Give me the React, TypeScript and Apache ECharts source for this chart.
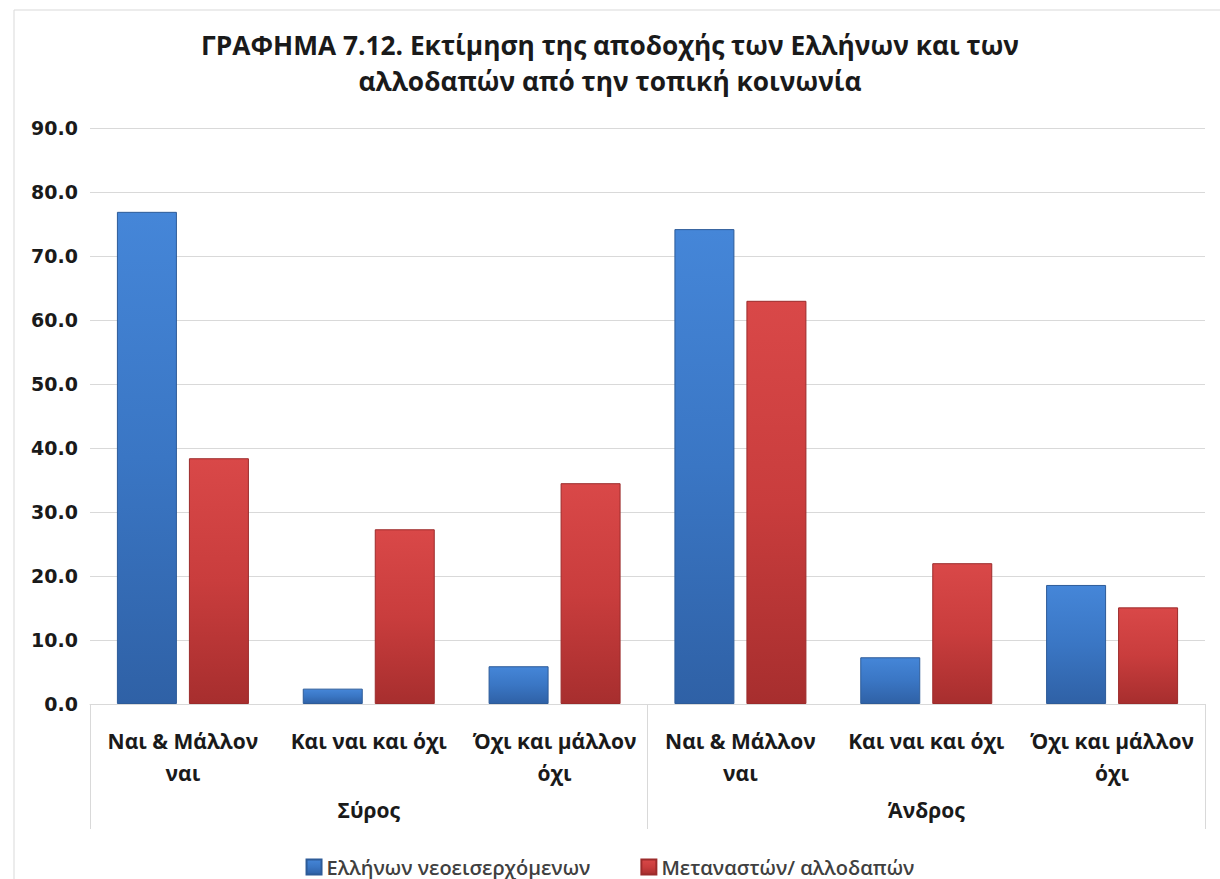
import React, { useEffect, useRef } from "react";
import * as echarts from "echarts";

const categories = ["Ναι & Μάλλον\nναι", "Και ναι και όχι", "Όχι και μάλλον\nόχι", "Ναι & Μάλλον\nναι", "Και ναι και όχι", "Όχι και μάλλον\nόχι"];
const groups = ["Σύρος", "Άνδρος"];
const greeks = [76.9, 2.4, 5.9, 74.2, 7.3, 18.6];
const migrants = [38.4, 27.3, 34.5, 63.0, 22.0, 15.1];
const seriesNames = ["Ελλήνων νεοεισερχόμενων", "Μεταναστών/ αλλοδαπών"];
const titleText = "ΓΡΑΦΗΜΑ 7.12. Εκτίμηση της αποδοχής των Ελλήνων και των\nαλλοδαπών από την τοπική κοινωνία";

const FONT = "Open Sans";

function grad(top: string, mid: string, bottom: string) {
  return new echarts.graphic.LinearGradient(0, 0, 0, 1, [
    { offset: 0, color: top },
    { offset: 0.5, color: mid },
    { offset: 1, color: bottom },
  ]);
}

export default function App() {
  const ref = useRef<HTMLDivElement>(null);
  useEffect(() => {
    if (!ref.current) return;
    const chart = echarts.init(ref.current, undefined, { renderer: "svg" });
    chart.setOption({
      animation: false,
      backgroundColor: "#ffffff",
      textStyle: { fontFamily: FONT },
      title: {
        text: titleText,
        left: "center",
        top: 22,
        padding: [5, 5, 5, 15],
        textStyle: { fontFamily: FONT, fontSize: 26.3, fontWeight: "bold", color: "#1a1a1a", lineHeight: 36 },
      },
      graphic: [
        {
          type: "rect",
          shape: { x: 14, y: 10, width: 1300, height: 1000 },
          style: { fill: "none", stroke: "#d9d9d9", lineWidth: 1 },
          silent: true,
        },
      ],
      legend: {
        left: "center",
        top: 852,
        itemWidth: 15,
        itemHeight: 15,
        itemGap: 50,
        icon: "rect",
        textStyle: { fontFamily: FONT, fontSize: 20, color: "#404040", fontWeight: 600 },
        data: seriesNames,
      },
      grid: { left: 90, right: 15, top: 128, bottom: 175, containLabel: false },
      xAxis: [
        {
          type: "category",
          data: categories,
          position: "bottom",
          axisLine: { show: true, lineStyle: { color: "#d9d9d9", width: 1 } },
          axisTick: { show: false },
          axisLabel: {
            interval: 0,
            margin: 21,
            fontFamily: FONT,
            fontSize: 21,
            fontWeight: "bold",
            color: "#1a1a1a",
            lineHeight: 32,
          },
        },
        {
          type: "category",
          data: groups,
          position: "bottom",
          offset: 0,
          axisLine: { show: false },
          axisTick: { show: true, length: 125, lineStyle: { color: "#d9d9d9", width: 1 } },
          axisLabel: {
            interval: 0,
            margin: 95,
            fontFamily: FONT,
            fontSize: 21,
            fontWeight: "bold",
            color: "#1a1a1a",
          },
        },
      ],
      yAxis: {
        type: "value",
        min: 0,
        max: 90,
        interval: 10,
        axisLine: { show: false },
        axisTick: { show: false },
        splitLine: { lineStyle: { color: "#d9d9d9", width: 1 } },
        axisLabel: {
          margin: 12,
          fontFamily: "DejaVu Sans",
          fontSize: 19,
          fontWeight: "bold",
          color: "#1a1a1a",
          formatter: (v: number) => v.toFixed(1),
        },
      },
      series: [
        {
          name: seriesNames[0],
          type: "bar",
          xAxisIndex: 0,
          data: greeks,
          barWidth: 60,
          barGap: "20%",
          itemStyle: {
            color: grad("#4586d8", "#3a76c4", "#2f61a6"),
            borderColor: "#2d5b98",
            borderWidth: 1,
          },
        },
        {
          name: seriesNames[1],
          type: "bar",
          xAxisIndex: 0,
          data: migrants,
          barWidth: 60,
          barGap: "20%",
          itemStyle: {
            color: grad("#d94848", "#c93d3d", "#a72e2e"),
            borderColor: "#9c2b2b",
            borderWidth: 1,
          },
        },
      ],
    });
    return () => chart.dispose();
  }, []);
  return <div ref={ref} style={{ width: 1220, height: 879, position: "absolute", left: 0, top: 0 }} />;
}
